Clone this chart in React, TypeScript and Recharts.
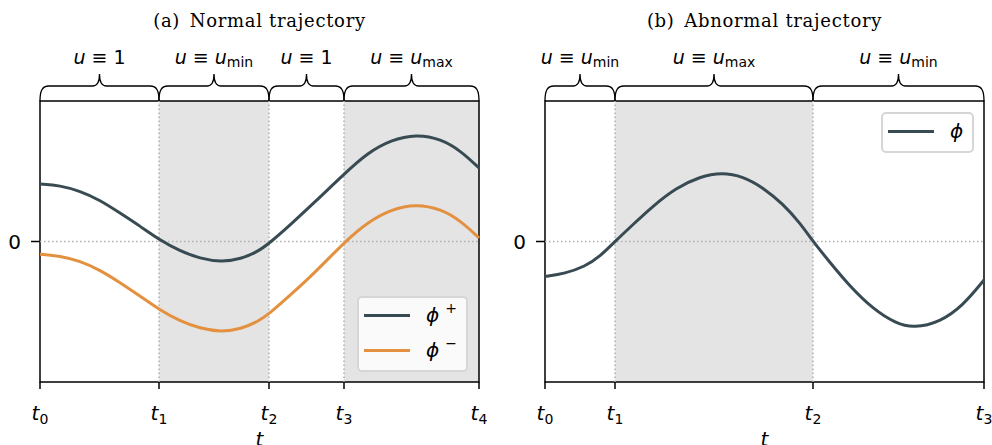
import React from "react";
import {
  LineChart,
  Line,
  XAxis,
  YAxis,
  ReferenceArea,
  ReferenceLine,
  Legend,
  Label,
} from "recharts";

// (a) normal trajectory
const tNormal = [0, 0.2, 0.4, 0.6, 0.8, 1.0, 1.19, 1.4, 1.6, 1.81, 2.01, 2.18, 2.29, 2.5, 2.75, 3.04, 3.28, 3.51, 3.76, 4.01, 4.21, 4.39];
const phiPlus = [0.409, 0.399, 0.359, 0.295, 0.203, 0.11, 0.014, -0.068, -0.121, -0.146, -0.125, -0.071, -0.014, 0.117, 0.281, 0.48, 0.633, 0.722, 0.763, 0.73, 0.644, 0.523];
const phiMinus = [-0.091, -0.103, -0.139, -0.203, -0.292, -0.388, -0.484, -0.566, -0.619, -0.644, -0.623, -0.569, -0.516, -0.384, -0.221, -0.007, 0.139, 0.228, 0.267, 0.231, 0.146, 0.025];
const normalTicks = [0, 1.19, 2.29, 3.04, 4.39];
const normalControls = ["1", "min", "1", "max"];
const normalShaded = [false, true, false, true];

// (b) abnormal trajectory
const tAbnormal = [0, 0.2, 0.4, 0.55, 0.7, 0.88, 1.08, 1.31, 1.55, 1.77, 1.98, 2.18, 2.38, 2.55, 2.68, 2.85, 3.05, 3.28, 3.51, 3.69, 3.95, 4.18, 4.39];
const phiAbn = [-0.249, -0.228, -0.178, -0.107, 0, 0.121, 0.253, 0.381, 0.463, 0.491, 0.463, 0.384, 0.267, 0.132, 0, -0.149, -0.32, -0.48, -0.584, -0.616, -0.573, -0.456, -0.274];
const abnormalTicks = [0, 0.7, 2.68, 4.39];
const abnormalControls = ["min", "max", "min"];
const abnormalShaded = [false, true, false];

const DARK = "#384b53";
const ORANGE = "#e39140";
const SHADE = "#e4e4e4";
const DOTS = "#b0b0b0";
const MATH = "DejaVu Sans";

const normalData = tNormal.map((t, i) => ({ t, plus: phiPlus[i], minus: phiMinus[i] }));
const abnormalData = tAbnormal.map((t, i) => ({ t, phi: phiAbn[i] }));

function ControlLabel({ x, y, ctrl }: { x: number; y: number; ctrl: string }) {
  return (
    <text x={x} y={y} textAnchor="middle" fontFamily={MATH} fontSize={19} fill="#000">
      <tspan fontStyle="italic">u</tspan>
      <tspan>{" \u2261 "}</tspan>
      {ctrl === "1" ? (
        <tspan>1</tspan>
      ) : (
        <>
          <tspan fontStyle="italic">u</tspan>
          <tspan fontSize={14} dy={3}>{ctrl}</tspan>
        </>
      )}
    </text>
  );
}

// curly brace drawn above the plot area over one control interval
function Brace(props: any) {
  const { x, y, width, ctrl } = props;
  const x1 = x;
  const x2 = x + width;
  const xm = x + width / 2;
  const yb = y;
  const yh = yb - 15;
  const yt = yb - 27;
  const d =
    `M ${x1} ${yb} C ${x1} ${yb - 10} ${x1 + 2} ${yh} ${x1 + 9} ${yh} ` +
    `L ${xm - 7} ${yh} C ${xm - 3} ${yh} ${xm} ${yh - 4} ${xm} ${yt} ` +
    `C ${xm} ${yh - 4} ${xm + 3} ${yh} ${xm + 7} ${yh} ` +
    `L ${x2 - 9} ${yh} C ${x2 - 2} ${yh} ${x2} ${yb - 10} ${x2} ${yb}`;
  return (
    <g>
      <path d={d} fill="none" stroke="#000" strokeWidth={1.3} />
      <ControlLabel x={xm} y={yb - 37} ctrl={ctrl} />
    </g>
  );
}

function makeTick(ticks: number[]) {
  return (props: any) => {
    const { x, y, payload } = props;
    const idx = ticks.indexOf(payload.value);
    return (
      <text x={x} y={y + 29} textAnchor="middle" fontFamily={MATH} fontSize={20} fill="#000">
        <tspan fontStyle="italic">t</tspan>
        <tspan fontSize={14} dy={4}>{String(idx)}</tspan>
      </text>
    );
  };
}

function Phi({ sup }: { sup?: string }) {
  return (
    <span style={{ fontFamily: MATH, fontSize: 20, fontStyle: "italic", color: "#000" }}>
      {"\u03d5"}
      {sup && (
        <span style={{ fontStyle: "normal", fontSize: 14, position: "relative", top: -9, marginLeft: 6 }}>
          {sup}
        </span>
      )}
    </span>
  );
}

function LegendBox({ w, h, items }: { w: number; h: number; items: { color: string; sup?: string; cy: number }[] }) {
  return (
    <div
      style={{
        position: "relative",
        width: w,
        height: h,
        boxSizing: "border-box",
        border: "2px solid #d6d6d6",
        borderRadius: 5,
        background: "rgba(255,255,255,0.8)",
      }}
    >
      {items.map((it, i) => (
        <React.Fragment key={i}>
          <div style={{ position: "absolute", left: 5, top: it.cy - 3.5, width: 46, height: 3, background: it.color }} />
          <div style={{ position: "absolute", left: 67, top: it.cy - 14, lineHeight: "24px" }}>
            <Phi sup={it.sup} />
          </div>
        </React.Fragment>
      ))}
    </div>
  );
}

function Panel({
  data,
  ticks,
  controls,
  shaded,
  title,
  leftPad,
  rightPad,
  children,
  legend,
}: any) {
  const tMax = ticks[ticks.length - 1];
  return (
    <LineChart width={496} height={445} data={data} margin={{ top: 101, right: rightPad, left: 0, bottom: 0 }}>
      <XAxis
        type="number"
        dataKey="t"
        domain={[0, tMax]}
        ticks={ticks}
        interval={0}
        axisLine={false}
        tickSize={7}
        tickLine={{ stroke: "#000", strokeWidth: 1.5 }}
        tick={makeTick(ticks)}
        height={63}
      >
        <Label value="t" position="insideBottom" offset={-1} fontFamily={MATH} fontSize={20} fontStyle="italic" fill="#000" />
      </XAxis>
      <YAxis
        type="number"
        domain={[-1, 1]}
        ticks={[0]}
        width={leftPad}
        axisLine={false}
        tickSize={9}
        tickMargin={10}
        tickLine={{ stroke: "#000", strokeWidth: 1.5 }}
        tick={{ fontFamily: MATH, fontSize: 20, fill: "#000" }}
      />
      {controls.map((c: string, i: number) =>
        shaded[i] ? (
          <ReferenceArea key={"s" + i} x1={ticks[i]} x2={ticks[i + 1]} fill={SHADE} fillOpacity={1} stroke="none" />
        ) : null
      )}
      {ticks.slice(1, -1).map((t: number) => (
        <ReferenceLine key={"v" + t} x={t} stroke={DOTS} strokeWidth={1.5} strokeDasharray="1.5 2.5" />
      ))}
      <ReferenceLine y={0} stroke={DOTS} strokeWidth={1.5} strokeDasharray="1.5 2.5" />
      {controls.map((c: string, i: number) => (
        <ReferenceArea
          key={"b" + i}
          x1={ticks[i]}
          x2={ticks[i + 1]}
          ifOverflow="visible"
          shape={(p: any) => <Brace {...p} ctrl={c} />}
        />
      ))}
      {children}
      <ReferenceArea x1={0} x2={tMax} y1={-1} y2={1} fill="none" stroke="#000" strokeWidth={1.5} ifOverflow="visible">
        <Label
          value={title}
          position="top"
          offset={74}
          fontFamily="DejaVu Serif"
          fontSize={18}
          letterSpacing={0.7}
          fill="#000"
        />
      </ReferenceArea>
      {legend}
    </LineChart>
  );
}

export default function App() {
  return (
    <div style={{ position: "absolute", left: 0, top: 0, width: 992, height: 445, background: "#fff", display: "flex" }}>
      <Panel
        data={normalData}
        ticks={normalTicks}
        controls={normalControls}
        shaded={normalShaded}
        title={"(a)\u2002Normal trajectory"}
        leftPad={40}
        rightPad={17}
        legend={
          <Legend
            layout="horizontal"
            verticalAlign="middle"
            align="center"
            wrapperStyle={{ left: 357, top: 296, width: 111, height: 76 }}
            content={() => (
              <LegendBox
                w={111}
                h={76}
                items={[
                  { color: DARK, sup: "+", cy: 19 },
                  { color: ORANGE, sup: "\u2212", cy: 54 },
                ]}
              />
            )}
          />
        }
      >
        <Line type="basis" dataKey="plus" stroke={DARK} strokeWidth={3} dot={false} isAnimationActive={false} />
        <Line type="basis" dataKey="minus" stroke={ORANGE} strokeWidth={3} dot={false} isAnimationActive={false} />
      </Panel>
      <Panel
        data={abnormalData}
        ticks={abnormalTicks}
        controls={abnormalControls}
        shaded={abnormalShaded}
        title={"(b)\u2002Abnormal trajectory"}
        leftPad={49}
        rightPad={8}
        legend={
          <Legend
            layout="horizontal"
            verticalAlign="middle"
            align="center"
            wrapperStyle={{ left: 385, top: 112, width: 93, height: 41 }}
            content={() => <LegendBox w={93} h={41} items={[{ color: DARK, cy: 19 }]} />}
          />
        }
      >
        <Line type="basis" dataKey="phi" stroke={DARK} strokeWidth={3} dot={false} isAnimationActive={false} />
      </Panel>
    </div>
  );
}
